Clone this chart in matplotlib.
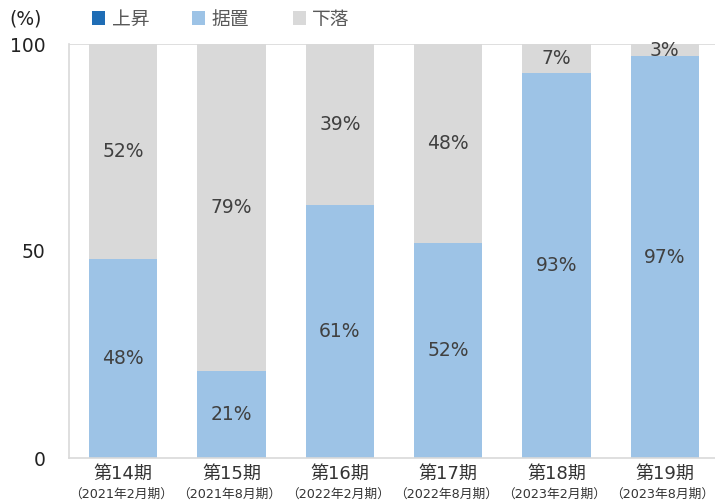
import numpy as np
import matplotlib.pyplot as plt
from matplotlib.patches import Patch
from matplotlib.transforms import blended_transform_factory

plt.rcParams['font.family'] = ['DejaVu Sans', 'Noto Sans CJK JP']

# ------------------------------------------------------------------
periods = ["第14期", "第15期", "第16期", "第17期", "第18期", "第19期"]
sub_labels = ["（2021年2月期）", "（2021年8月期）", "（2022年2月期）",
              "（2022年8月期）", "（2023年2月期）", "（2023年8月期）"]
rise = [0, 0, 0, 0, 0, 0]
flat = [48, 21, 61, 52, 93, 97]
fall = [52, 79, 39, 48, 7, 3]
series_names = ["上昇", "据置", "下落"]
colors = ["#1F6DB5", "#9DC3E6", "#D9D9D9"]
# ------------------------------------------------------------------

fig = plt.figure(figsize=(7.15, 5.03), dpi=100)
ax = fig.add_axes([69 / 715, 1 - 458 / 503, 650 / 715, 414 / 503])

x = np.arange(len(periods))
w = 0.63
rise = np.array(rise)
flat = np.array(flat)
fall = np.array(fall)

ax.bar(x, rise, w, color=colors[0])
ax.bar(x, flat, w, bottom=rise, color=colors[1])
ax.bar(x, fall, w, bottom=rise + flat, color=colors[2])

for i in range(len(x)):
    ax.text(x[i], rise[i] + flat[i] / 2, f"{flat[i]}%", ha="center",
            va="center", fontsize=13.5, color="#404040")
    ax.text(x[i], rise[i] + flat[i] + fall[i] / 2, f"{fall[i]}%",
            ha="center", va="center", fontsize=13.5, color="#404040")

ax.set_xlim(-0.5, 5.5)
ax.set_ylim(0, 100)
ax.set_yticks([0, 50, 100])
ax.tick_params(axis="y", length=0, pad=17, labelsize=13.5, labelcolor="#222222")
ax.set_xticks([])
ax.axhline(100, color="#D9D9D9", lw=1.2, zorder=0)
for s in ["top", "right"]:
    ax.spines[s].set_visible(False)
for s in ["left", "bottom"]:
    ax.spines[s].set_color("#D9D9D9")
    ax.spines[s].set_linewidth(1.2)

trans = blended_transform_factory(ax.transData, fig.transFigure)
for i in range(len(x)):
    ax.text(x[i], 1 - 474 / 503, periods[i], transform=trans, ha="center",
            va="center", fontsize=13, color="#333333")
    ax.text(x[i] - 0.02, 1 - 494 / 503, sub_labels[i], transform=trans,
            ha="center", va="center", fontsize=9.2, color="#333333")

fig.text(26 / 715, 1 - 19 / 503, "(%)", ha="center", va="center",
         fontsize=13.5, color="#222222")

handles = [Patch(facecolor=c, edgecolor="none") for c in colors]
fig.legend(handles, series_names, loc="center left",
           bbox_to_anchor=(75 / 715, 1 - 19 / 503), ncol=3, frameon=False,
           fontsize=13.5, labelcolor="#595959", handlelength=0.7,
           handleheight=0.7, handletextpad=0.35, columnspacing=2.3)

fig.savefig("out.png", dpi=100)
